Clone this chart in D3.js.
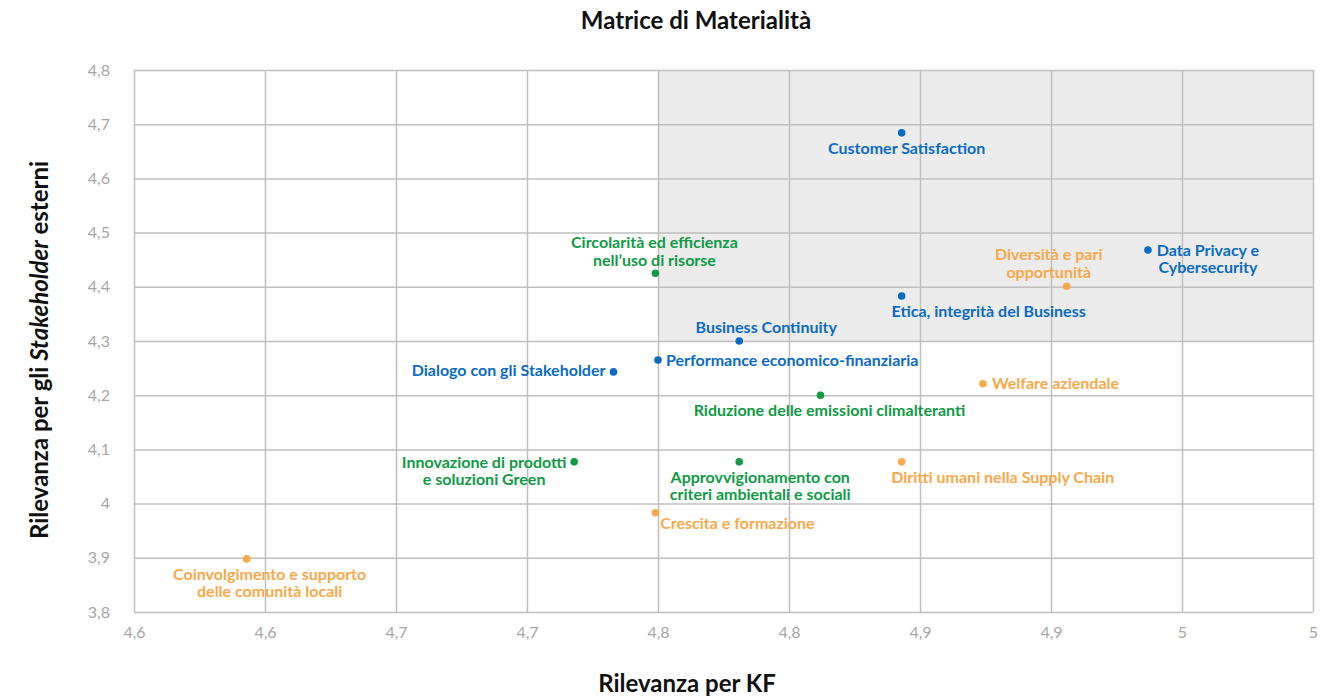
<!DOCTYPE html>
<html><head><meta charset="utf-8">
<script src="https://cdn.jsdelivr.net/npm/d3@7"></script>
<style>body{margin:0;background:#fff;font-family:Lato,sans-serif}</style>
</head><body><svg id="c" width="1338" height="698"></svg>
<script>
const topics = ["Customer Satisfaction","Circolarità ed efficienza|nell’uso di risorse","Data Privacy e|Cybersecurity","Diversità e pari|opportunità","Etica, integrità del Business","Business Continuity","Performance economico-finanziaria","Dialogo con gli Stakeholder","Riduzione delle emissioni climalteranti","Welfare aziendale","Innovazione di prodotti|e soluzioni Green","Approvvigionamento con|criteri ambientali e sociali","Diritti umani nella Supply Chain","Crescita e formazione","Coinvolgimento e supporto|delle comunità locali"];
const kfValues = [4.843,4.749,4.937,4.906,4.843,4.781,4.750,4.733,4.812,4.874,4.718,4.781,4.843,4.749,4.593];
const stakeholderValues = [4.684,4.425,4.468,4.401,4.383,4.300,4.265,4.243,4.200,4.221,4.077,4.077,4.077,3.983,3.898];
const groups = ["gov","env","gov","soc","gov","gov","gov","gov","env","soc","env","env","soc","soc","soc"];
const xTicks = [4.55,4.60,4.65,4.70,4.75,4.80,4.85,4.90,4.95,5.00];
const xTickLabels = ["4,6","4,6","4,7","4,7","4,8","4,8","4,9","4,9","5","5"];
const yTicks = [3.8,3.9,4.0,4.1,4.2,4.3,4.4,4.5,4.6,4.7,4.8];
const yTickLabels = ["3,8","3,9","4","4,1","4,2","4,3","4,4","4,5","4,6","4,7","4,8"];
const highZone = {x0:4.75,x1:5.0,y0:4.3,y1:4.8};

// label layout (px offsets from point, anchor)
const labelLayout = [
 {dx:5,dy:16,a:"middle"},{dx:-1,dy:-22,a:"middle"},{dx:60,dy:9,a:"middle"},{dx:-18,dy:-23,a:"middle"},
 {dx:87,dy:15,a:"middle"},{dx:27,dy:-14,a:"middle"},{dx:8,dy:0,a:"start"},{dx:-8,dy:-1,a:"end"},
 {dx:9,dy:15,a:"middle"},{dx:9,dy:0,a:"start"},{dx:-90,dy:9,a:"middle"},{dx:21,dy:24,a:"middle"},
 {dx:101,dy:16,a:"middle"},{dx:82,dy:11,a:"middle"},{dx:23,dy:24,a:"middle"}
];
const colors = {gov:"#0a6bc2",env:"#0f9a45",soc:"#f9a84a"};

const svg = d3.select("#c");
const x = d3.scaleLinear().domain([4.55,5.0]).range([134,1313]);
const y = d3.scaleLinear().domain([3.8,4.8]).range([612,70]);

svg.append("rect").attr("x",x(highZone.x0)).attr("y",y(highZone.y1))
  .attr("width",x(highZone.x1)-x(highZone.x0)).attr("height",y(highZone.y0)-y(highZone.y1)).attr("fill","#ececec");

const gx = svg.append("g").attr("transform","translate(0,612)")
  .call(d3.axisBottom(x).tickValues(xTicks).tickSize(-542).tickFormat((d,i)=>xTickLabels[i]).tickPadding(15));
const gy = svg.append("g").attr("transform","translate(134,0)")
  .call(d3.axisLeft(y).tickValues(yTicks).tickSize(-1179).tickFormat((d,i)=>yTickLabels[i]).tickPadding(12));
[gx,gy].forEach(g=>{
  g.select(".domain").remove();
  g.selectAll("line").attr("stroke","#bfbfbf").attr("stroke-width",1.5);
  g.selectAll("text").attr("fill","#a6a6a6").attr("font-size",16).attr("font-family","Lato");
});
gy.selectAll("text").attr("dx",-12);

const data = topics.map((t,i)=>({t,x:kfValues[i],y:stakeholderValues[i],g:groups[i],l:labelLayout[i]}));
svg.append("g").selectAll("circle").data(data).join("circle")
  .attr("cx",d=>x(d.x)).attr("cy",d=>y(d.y)).attr("r",3.8).attr("fill",d=>colors[d.g]);

const lab = svg.append("g").selectAll("text").data(data).join("text")
  .attr("font-family","Lato").attr("font-weight",700).attr("font-size",16)
  .attr("fill",d=>colors[d.g]).attr("text-anchor",d=>d.l.a);
lab.each(function(d){
  const lines=d.t.split("|");
  const cx=x(d.x)+d.l.dx, cy=y(d.y)+d.l.dy;
  const lh=17.5;
  const start=cy-(lines.length-1)*lh/2;
  lines.forEach((ln,k)=>d3.select(this).append("tspan").attr("x",cx).attr("y",start+k*lh).attr("dy","0.35em").text(ln));
});

svg.append("text").attr("x",696).attr("y",29).attr("text-anchor","middle").attr("font-weight",700)
  .attr("font-size",24).attr("font-family","Lato").attr("fill","#111").text("Matrice di Materialità");
svg.append("text").attr("x",687).attr("y",692).attr("text-anchor","middle").attr("font-weight",700)
  .attr("font-size",24).attr("font-family","Lato").attr("fill","#111").text("Rilevanza per KF");
const yt = svg.append("text").attr("transform","translate(48,350) rotate(-90)").attr("text-anchor","middle")
  .attr("font-weight",700).attr("font-size",24).attr("font-family","Lato").attr("fill","#111");
yt.append("tspan").text("Rilevanza per gli ");
yt.append("tspan").attr("font-style","italic").text("Stakeholder");
yt.append("tspan").text(" esterni");
</script></body></html>
